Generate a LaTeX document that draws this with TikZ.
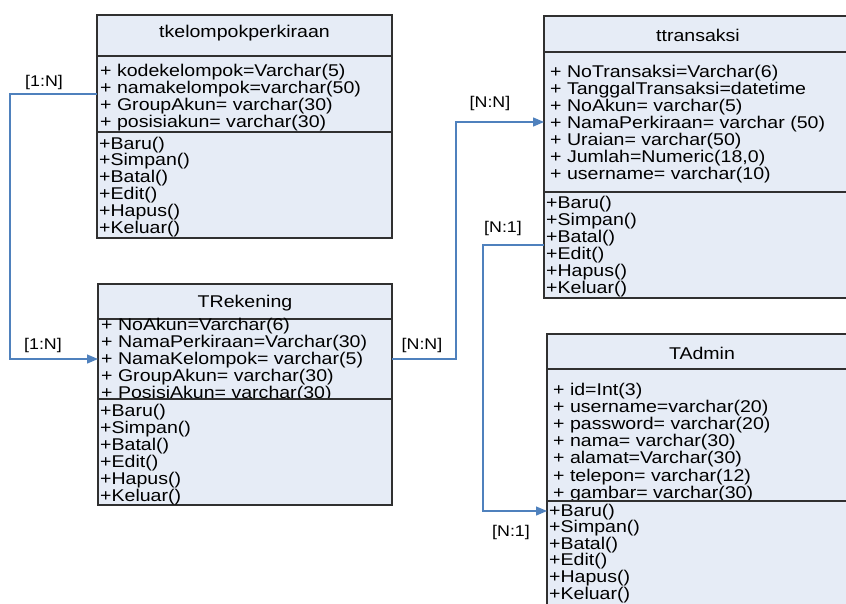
\documentclass[tikz,border=0pt]{standalone}
\usepackage{fontspec}
\setmainfont{Liberation Sans}[FakeStretch=1.15]
\usetikzlibrary{arrows.meta}
\definecolor{boxfill}{HTML}{E6ECF6}
\definecolor{connc}{HTML}{4F81BD}
\definecolor{boxline}{HTML}{303030}
\begin{document}
\begin{tikzpicture}[x=1pt,y=-1pt,
  txt/.style={font=\fontsize{17}{17}\selectfont, inner sep=0pt, anchor=base west},
  ttl/.style={font=\fontsize{17}{17}\selectfont, inner sep=0pt},
  lbl/.style={font=\fontsize{15.5}{16}\selectfont, inner sep=0pt},
  conn/.style={draw=connc, line width=1.3pt, -{Triangle[length=11pt,width=9pt]}},
  boxpart/.style={draw=boxline, fill=boxfill, line width=1.2pt, anchor=north west, inner sep=0pt, outer sep=0pt}]
\useasboundingbox (0,0) rectangle (846,603);
\clip (0,0) rectangle (846,603);

% ---------- tkelompokperkiraan ----------
\node[boxpart, minimum width=295pt, minimum height=41pt] (ktitle) at (97,15) {};
\node[ttl] (ktt) at (244.5,33) {tkelompokperkiraan};
\node[boxpart, minimum width=295pt, minimum height=76pt] (kattr) at (97,56) {};
\foreach \t [count=\i from 0] in {+ kodekelompok=Varchar(5), + namakelompok=varchar(50), + GroupAkun= varchar(30), + posisiakun= varchar(30)}
  \node[txt] (ka\i) at (100,76+17*\i) {\t};
\node[boxpart, minimum width=295pt, minimum height=106pt] (kmeth) at (97,132) {};
\foreach \t [count=\i from 0] in {+Baru(), +Simpan(), +Batal(), +Edit(), +Hapus(), +Keluar()}
  \node[txt] (km\i) at (99,149+16.8*\i) {\t};

% ---------- TRekening ----------
\node[boxpart, minimum width=294pt, minimum height=35pt] (rtitle) at (98,284) {};
\node[ttl] (rtt) at (245,303) {TRekening};
\node[boxpart, minimum width=294pt, minimum height=80pt] (rattr) at (98,319) {};
\foreach \t [count=\i from 0] in {+ NoAkun=Varchar(6), + NamaPerkiraan=Varchar(30), + NamaKelompok= varchar(5), + GroupAkun= varchar(30), + PosisiAkun= varchar(30)}
  \node[txt] (ra\i) at (101,330+17.2*\i) {\t};
\node[boxpart, minimum width=294pt, minimum height=106pt] (rmeth) at (98,399) {};
\foreach \t [count=\i from 0] in {+Baru(), +Simpan(), +Batal(), +Edit(), +Hapus(), +Keluar()}
  \node[txt] (rm\i) at (100,416+17*\i) {\t};

% ---------- ttransaksi ----------
\node[boxpart, minimum width=308pt, minimum height=36pt] (ttitle) at (544,16) {};
\node[ttl] (ttt) at (698,35) {ttransaksi};
\node[boxpart, minimum width=308pt, minimum height=140pt] (tattr) at (544,52) {};
\foreach \t [count=\i from 0] in {+ NoTransaksi=Varchar(6), + TanggalTransaksi=datetime, + NoAkun= varchar(5), + NamaPerkiraan= varchar (50), + Uraian= varchar(50), {+ Jumlah=Numeric(18,0)}, + username= varchar(10)}
  \node[txt] (ta\i) at (550,77+17*\i) {\t};
\node[boxpart, minimum width=308pt, minimum height=106pt] (tmeth) at (544,192) {};
\foreach \t [count=\i from 0] in {+Baru(), +Simpan(), +Batal(), +Edit(), +Hapus(), +Keluar()}
  \node[txt] (tm\i) at (546,208+17*\i) {\t};

% ---------- TAdmin ----------
\node[boxpart, minimum width=310pt, minimum height=35pt] (atitle) at (547,334) {};
\node[ttl] (att) at (702,353) {TAdmin};
\node[boxpart, minimum width=310pt, minimum height=132pt] (aattr) at (547,369) {};
\foreach \t [count=\i from 0] in {+ id=Int(3), + username=varchar(20), + password= varchar(20), + nama= varchar(30), + alamat=Varchar(30), + telepon= varchar(12), + gambar= varchar(30)}
  \node[txt] (aa\i) at (553,395+17.2*\i) {\t};
\node[boxpart, minimum width=310pt, minimum height=140pt] (ameth) at (547,501) {};
\foreach \t [count=\i from 0] in {+Baru(), +Simpan(), +Batal(), +Edit(), +Hapus(), +Keluar()}
  \node[txt] (am\i) at (549,516+16.6*\i) {\t};

% ---------- connectors ----------
\path (ameth.north west) ++(0,10) coordinate (aIn);
\draw[conn] (kattr.west) -- ++(-87,0) |- (rattr.west);
\draw[conn] (rattr.east) -- ++(64,0) |- (tattr.west);
\draw[conn] (tmeth.west) -- ++(-61,0) |- (aIn);

% ---------- labels ----------
\node[lbl] (l1) at (44,82) {[1:N]};
\node[lbl] (l2) at (43,345) {[1:N]};
\node[lbl] (l3) at (422,345) {[N:N]};
\node[lbl] (l4) at (490,103) {[N:N]};
\node[lbl] (l5) at (503,228) {[N:1]};
\node[lbl] (l6) at (511,532) {[N:1]};
\end{tikzpicture}
\end{document}
